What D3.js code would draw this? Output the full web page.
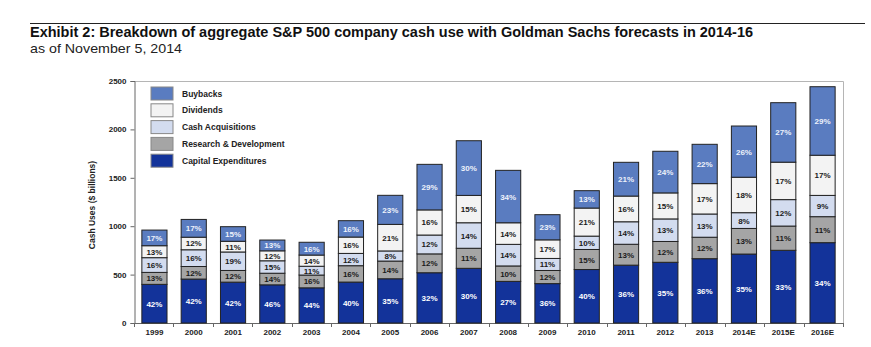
<!doctype html>
<html>
<head>
<meta charset="utf-8">
<script src="https://cdn.jsdelivr.net/npm/d3@7"></script>
<style>
  html, body { margin: 0; padding: 0; background: #fff; }
  svg { display: block; font-family: "Liberation Sans", Arial, sans-serif; }
</style>
</head>
<body>
<svg id="chart" width="871" height="347"></svg>
<script>
// values (totals in $ billions, shares in %)
var years = ["1999","2000","2001","2002","2003","2004","2005","2006","2007","2008","2009","2010","2011","2012","2013","2014E","2015E","2016E"];
var totals = [960, 1070, 995, 857, 834, 1057, 1319, 1639, 1883, 1577, 1119, 1367, 1660, 1774, 1846, 2035, 2276, 2441];
var capex    = [42, 42, 42, 46, 44, 40, 35, 32, 30, 27, 36, 40, 36, 35, 36, 35, 33, 34];
var rnd      = [13, 12, 12, 14, 16, 16, 14, 12, 11, 10, 12, 15, 13, 12, 12, 13, 11, 11];
var acq      = [16, 16, 19, 15, 11, 12,  8, 12, 14, 14, 11, 10, 14, 13, 13,  8, 12,  9];
var divs     = [13, 12, 11, 12, 14, 16, 21, 16, 15, 14, 17, 21, 16, 15, 17, 18, 17, 17];
var buybacks = [17, 17, 15, 13, 16, 16, 23, 29, 30, 34, 23, 13, 21, 24, 22, 26, 27, 29];

var seriesNames = ["Capital Expenditures", "Research & Development", "Cash Acquisitions", "Dividends", "Buybacks"];
var seriesPct = [capex, rnd, acq, divs, buybacks];
var colors = ["#13339a", "#a5a5a5", "#d3dcef", "#f3f3f3", "#5a7cc0"];
var labelColors = ["#ffffff", "#1a1a1a", "#1a1a1a", "#1a1a1a", "#eef2fb"];

var svg = d3.select("#chart");

// header
svg.append("line").attr("x1", 30).attr("x2", 865).attr("y1", 23.5).attr("y2", 23.5)
    .attr("stroke", "#222").attr("stroke-width", 1.2);
svg.append("text").attr("x", 30).attr("y", 36.5)
    .style("font-size", "14px").style("font-weight", "bold").attr("fill", "#111")
    .attr("textLength", 723).attr("lengthAdjust", "spacingAndGlyphs")
    .text("Exhibit 2: Breakdown of aggregate S&P 500 company cash use with Goldman Sachs forecasts in 2014-16");
svg.append("text").attr("x", 30).attr("y", 53)
    .style("font-size", "13.5px").attr("fill", "#222")
    .attr("textLength", 152).attr("lengthAdjust", "spacingAndGlyphs")
    .text("as of November 5, 2014");

// rows for stacking
var rows = years.map(function(yr, i) {
    var sum = d3.sum(seriesPct, function(s) { return s[i]; });
    var row = {year: yr};
    seriesNames.forEach(function(name, k) {
        row[name] = totals[i] * seriesPct[k][i] / sum;
        row[name + "_pct"] = seriesPct[k][i];
    });
    return row;
});

var stack = d3.stack().keys(seriesNames)(rows);

var x = d3.scaleBand().domain(years).range([134, 843]).paddingInner(0.36).paddingOuter(0.2);
var y = d3.scaleLinear().domain([0, 2500]).range([323, 81]);

// frame
svg.append("path").attr("d", "M134,81.5H843.5V323").attr("fill", "none").attr("stroke", "#b5b5b5");

// y axis
var yAxis = svg.append("g").attr("transform", "translate(134.5,0)")
    .call(d3.axisLeft(y).tickValues([0, 500, 1000, 1500, 2000, 2500]).tickSize(4).tickPadding(4).tickFormat(d3.format("d")));
yAxis.select(".domain").attr("stroke", "#666");
yAxis.selectAll(".tick line").attr("stroke", "#666");
yAxis.selectAll("text").style("font-size", "8px").style("font-weight", "bold").attr("fill", "#222");

svg.append("text")
    .attr("transform", "translate(95,205) rotate(-90)")
    .attr("text-anchor", "middle")
    .style("font-size", "8.5px").style("font-weight", "bold").attr("fill", "#222")
    .text("Cash Uses ($ billions)");

// x axis
svg.append("line").attr("x1", 134).attr("x2", 843.5).attr("y1", 323.5).attr("y2", 323.5).attr("stroke", "#666");
svg.append("g").selectAll("line")
    .data(d3.range(years.length + 1))
    .join("line")
    .attr("x1", function(i) { return Math.round(134 + i * (709 / years.length)) + 0.5; })
    .attr("x2", function(i) { return Math.round(134 + i * (709 / years.length)) + 0.5; })
    .attr("y1", 323).attr("y2", 327).attr("stroke", "#666");
svg.append("g").selectAll("text")
    .data(years)
    .join("text")
    .attr("x", function(d) { return x(d) + x.bandwidth() / 2; })
    .attr("y", 335)
    .attr("text-anchor", "middle")
    .style("font-size", "8px").style("font-weight", "bold").attr("fill", "#222")
    .text(function(d) { return d; });

// bars
var layers = svg.append("g").selectAll("g")
    .data(stack)
    .join("g")
    .attr("fill", function(d, i) { return colors[i]; });

layers.selectAll("rect")
    .data(function(d) { return d; })
    .join("rect")
    .attr("x", function(d) { return x(d.data.year); })
    .attr("y", function(d) { return y(d[1]); })
    .attr("width", x.bandwidth())
    .attr("height", function(d) { return y(d[0]) - y(d[1]); })
    .attr("stroke", "#222").attr("stroke-width", 1);

// percentage labels
stack.forEach(function(layer, k) {
    svg.append("g").selectAll("text")
        .data(layer)
        .join("text")
        .attr("x", function(d) { return x(d.data.year) + x.bandwidth() / 2; })
        .attr("y", function(d) { return (y(d[0]) + y(d[1])) / 2 + 3; })
        .attr("text-anchor", "middle")
        .style("font-size", "8px").style("font-weight", "bold")
        .attr("fill", labelColors[k])
        .text(function(d) { return d.data[layer.key + "_pct"] + "%"; });
});

// legend (top to bottom)
var legendOrder = seriesNames.slice().reverse();
var legend = svg.append("g").selectAll("g")
    .data(legendOrder)
    .join("g")
    .attr("transform", function(d, i) { return "translate(151," + (87 + i * 16.8) + ")"; });
legend.append("rect")
    .attr("width", 22).attr("height", 13)
    .attr("fill", function(d) { return colors[seriesNames.indexOf(d)]; })
    .attr("stroke", "#888");
legend.append("text")
    .attr("x", 31).attr("y", 9.5)
    .style("font-size", "8.5px").style("font-weight", "bold").attr("fill", "#222")
    .text(function(d) { return d; });
</script>
</body>
</html>
